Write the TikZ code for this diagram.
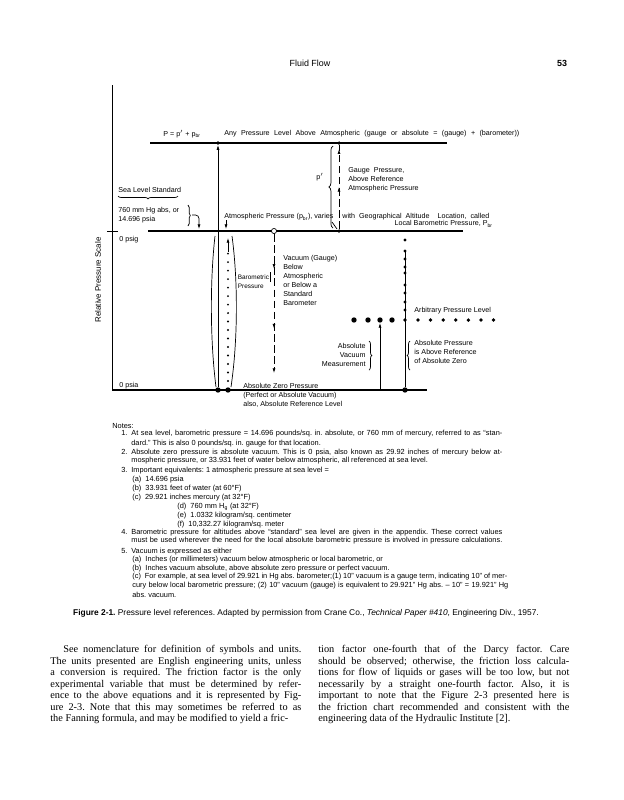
\documentclass[tikz,border=0pt]{standalone}
\usepackage{fontspec}
\setmainfont{Liberation Serif}
\newfontfamily\dgsans{Liberation Sans}
\usetikzlibrary{arrows.meta,decorations.pathreplacing,decorations.markings}
\frenchspacing
\newcommand{\dgfont}{\dgsans\fontsize{6.1}{7.6}\selectfont}
\newcommand{\ntfont}{\dgsans\fontsize{6.3}{7.6}\selectfont}
\newcommand{\hdfont}{\dgsans\fontsize{7.6}{9}\selectfont}
\newcommand{\fullln}[2]{\makebox[#1][s]{#2}}
\tikzset{
  lbl/.style={font=\dgfont, inner sep=0pt, anchor=west, align=left},
  lblr/.style={font=\dgfont, inner sep=0pt, anchor=east, align=right},
  nt/.style={font=\ntfont, inner sep=0pt, anchor=base west},
  bigdot/.style={circle, fill, inner sep=0pt, minimum size=4.6pt},
  dot/.style={circle, fill, inner sep=0pt, minimum size=2.6pt},
  tick/.style={circle, fill, inner sep=0pt, minimum size=3pt},
  lev/.style={line width=0.9pt},
  brc/.style={decorate, decoration={brace, amplitude=#1}, line width=0.6pt},
  brc/.default=2.5pt,
  tip/.style={-{Latex[length=4pt, width=2.6pt]}},
  arrat/.style={postaction={decorate, decoration={markings, mark=at position #1 with {\arrow{Latex[length=4pt, width=2.6pt]}}}}},
  gdash/.style={dash pattern=on 6.5pt off 3pt},
  dotcol/.style={line width=1.8pt, line cap=round, dash pattern=on 0pt off 7.25pt},
  body/.style={font=\fontsize{8.8}{9.86}\selectfont, inner sep=0pt, anchor=north west, text width=7.53cm, align=justify},
}
\begin{document}
\begin{tikzpicture}[x=0.03cm, y=-0.03cm, line width=0.6pt]
\fill[white] (0,0) rectangle (624,800);
\useasboundingbox (0,0) rectangle (624,800);

\node[font=\hdfont] (hd) at (310,63) {Fluid Flow};
\node[font=\hdfont\bfseries] (pg) at (562,63) {53};

\coordinate (axT) at (112,85);
\coordinate (axB) at (112,390);
\draw (axT) -- (axB);
\coordinate (tkL) at (107,231);
\coordinate (tkR) at (118,231);
\draw (tkL) -- (tkR);
\node[font=\dgsans\fontsize{6.8}{8}\selectfont, rotate=90] (rps) at (98,280) {Relative Pressure Scale};

\coordinate (topL) at (150,143);
\coordinate (topR) at (447,143);
\coordinate (atmL) at (148,231);
\coordinate (atmR) at (463,231);
\coordinate (zerR) at (427,390);
\draw[lev] (topL) -- (topR);
\draw[lev] (atmL) -- (atmR);
\draw[lev] (axB) -- (zerR);

\node[lbl] (peq) at (163,134) {P = p$'$ + p\textsubscript{br}};
\node[lbl] (anyp) at (224,134) {\fullln{8.85cm}{Any Pressure Level Above Atmospheric (gauge or absolute = (gauge) + (barometer))}};
\node[lbl] (sls) at (118,190) {Sea Level Standard};
\draw[brc] (178,196) -- (118,196);
\node[lbl] (hg) at (118,215) {760 mm Hg abs, or\\14.696 psia};
\draw[brc=2pt] (188,205) -- (188,226);
\coordinate (hk) at (192,215);
\coordinate (hkE) at (199,229);
\draw[tip, rounded corners=3pt] (hk) -| (hkE);
\node[lbl] (atp) at (224,217) {Atmospheric Pressure (p\textsubscript{br}), varies};
\node[lbl] (geo) at (342,217) {\fullln{4.41cm}{with Geographical Altitude\ \ Location, called}};
\node[lblr] (lbp) at (493,224) {Local Barometric Pressure, P\textsubscript{br}};
\coordinate (atA) at (226,220);
\coordinate (atB) at (226,229);
\draw[tip] (atA) -- (atB);
\node[lbl] (psig) at (119,240) {0 psig};
\node[lbl] (psia) at (119,386) {0 psia};

\node[tick] (gtop) at (339,143) {};
\node[tick] (gbot) at (339,231) {};
\draw[gdash, arrat=0.5, arrat=0.95] (gbot) -- (gtop);
\draw[brc=3.5pt] (333,228) -- (333,146);
\node[lbl] (pp) at (316,177) {p$'$};
\node[lbl] (gp) at (348,179.5) {Gauge\ \ Pressure,\\Above Reference\\Atmospheric Pressure};
\coordinate (vrA) at (332,222);
\coordinate (vrB) at (337,229);
\draw (vrA) -- (vrB);

\node[tick] (bartop) at (218,143) {};
\node[bigdot] (barbot) at (218,390) {};
\draw[tip] (barbot) -- (bartop);
\coordinate (dcB) at (228,381);
\coordinate (dcT) at (228,252);
\coordinate (dcA) at (228,238);
\draw[dotcol] (dcB) -- (dcT);
\draw[tip] (dcT) -- (dcA);
\node[bigdot] (dcbot) at (228,390) {};
\draw (215,236) .. controls (210,280) and (210,340) .. (216,387);
\draw (232,236) .. controls (238,280) and (238,340) .. (231,387);
\node[lbl, font=\dgsans\fontsize{5.5}{7.6}\selectfont] (baro) at (237.5,281.5) {Barometric\\Pressure};
\draw (270,272) -- (270,282);

\node[circle, draw, fill=white, inner sep=0pt, minimum size=4.4pt] (vc) at (274,231) {};
\coordinate (vend) at (274,373);
\draw[gdash, tip, arrat=0.25, arrat=0.68] (vc) -- (vend);
\node[lbl] (vac) at (283,280.5) {Vacuum (Gauge)\\Below\\Atmospheric\\or Below a\\Standard\\Barometer};

\node[dot] (rtopdot) at (405,240) {};
\node[bigdot] (rbot) at (405,390) {};
\coordinate (rtop) at (405,251);
\draw (rbot) -- (rtop);
\foreach \y in {251,259,267,273,285,293,302,310}
  \node[dot] at (405,\y) {};
\node[lbl] (arb) at (414,311) {Arbitrary Pressure Level};
\node[bigdot] (a1) at (354,320) {};
\node[bigdot] (a2) at (368,320) {};
\node[bigdot] (av) at (380,320) {};
\node[bigdot] (a4) at (392,320) {};
\node[dot, minimum size=3.2pt] (a5) at (405,320) {};
\draw[line width=3.2pt, line cap=round, dash pattern=on 0pt off 10.75pt] (418,320) -- (494,320);
\coordinate (avb) at (380,390);
\draw[tip] (avb) -- (av);
\node[lblr] (avm) at (366,355) {Absolute\\Vacuum\\Measurement};
\draw[brc=2.5pt] (369,341) -- (369,370);
\draw[brc=2.5pt] (410,370) -- (410,341);
\node[lbl] (abp) at (414,352) {Absolute Pressure\\is Above Reference\\of Absolute Zero};
\node[lbl] (azp) at (243,395.5) {Absolute Zero Pressure\\(Perfect or Absolute Vacuum)\\also, Absolute Reference Level};

\node[nt] (notes) at (112,428) {Notes:};
\node[nt] (n1) at (121,435) {1.};
\node[nt] (n1a) at (131,435) {\fullln{11.13cm}{At sea level, barometric pressure = 14.696 pounds/sq. in. absolute, or 760 mm of mercury, referred to as “stan-}};
\node[nt] (n1b) at (131,445) {dard.” This is also 0 pounds/sq. in. gauge for that location.};
\node[nt] (n2) at (121,454) {2.};
\node[nt] (n2a) at (131,454) {\fullln{11.13cm}{Absolute zero pressure is absolute vacuum. This is 0 psia, also known as 29.92 inches of mercury below at-}};
\node[nt] (n2b) at (131,462) {mospheric pressure, or 33.931 feet of water below atmospheric, all referenced at sea level.};
\node[nt] (n3) at (121,472) {3.};
\node[nt] (n3a) at (131,472) {Important equivalents: 1 atmospheric pressure at sea level =};
\node[nt] (n3b) at (132,481) {(a)\ \ 14.696 psia};
\node[nt] (n3c) at (132,490) {(b)\ \ 33.931 feet of water (at 60\textdegree F)};
\node[nt] (n3d) at (132,499) {(c)\ \ 29.921 inches mercury (at 32\textdegree F)};
\node[nt] (n3e) at (177,508) {(d)\ \ 760 mm H\textsubscript{g} (at 32\textdegree F)};
\node[nt] (n3f) at (177,517) {(e)\ \ 1.0332 kilogram/sq. centimeter};
\node[nt] (n3g) at (177,526) {(f)\ \ 10,332.27 kilogram/sq. meter};
\node[nt] (n4) at (121,534) {4.};
\node[nt] (n4a) at (131,534) {\fullln{11.13cm}{Barometric pressure for altitudes above “standard” sea level are given in the appendix. These correct values}};
\node[nt] (n4b) at (131,542) {\fullln{11.13cm}{must be used wherever the need for the local absolute barometric pressure is involved in pressure calculations.}};
\node[nt] (n5) at (121,553) {5.};
\node[nt] (n5a) at (131,553) {Vacuum is expressed as either};
\node[nt] (n5b) at (132,561) {(a)\ \ Inches (or millimeters) vacuum below atmospheric or local barometric, or};
\node[nt] (n5c) at (132,570) {(b)\ \ Inches vacuum absolute, above absolute zero pressure or perfect vacuum.};
\node[nt] (n5d) at (132,578) {\fullln{11.25cm}{(c)\ \ For example, at sea level of 29.921 in Hg abs. barometer;(1) 10” vacuum is a gauge term, indicating 10” of mer-}};
\node[nt] (n5e) at (132,587) {\fullln{11.28cm}{cury below local barometric pressure; (2) 10” vacuum (gauge) is equivalent to 29.921” Hg abs. – 10” = 19.921” Hg}};
\node[nt] (n5f) at (132,597) {abs. vacuum.};

\node[font=\dgsans\fontsize{7.15}{9}\selectfont, inner sep=0pt] (cap) at (306,613) {\textbf{Figure 2-1.} Pressure level references. Adapted by permission from Crane Co., \textit{Technical Paper \#410}, Engineering Div., 1957.};

\node[body] (colL) at (50,645) {\parfillskip=0pt\hspace*{0.39cm}See nomenclature for definition of symbols and units.\linebreak
The units presented are English engineering units, unless\linebreak
a conversion is required. The friction factor is the only\linebreak
experimental variable that must be determined by refer-\linebreak
ence to the above equations and it is represented by Fig-\linebreak
ure 2-3. Note that this may sometimes be referred to as\linebreak
the Fanning formula, and may be modified to yield a fric-};
\node[body] (colR) at (318,645) {tion factor one-fourth that of the Darcy factor. Care\linebreak
should be observed; otherwise, the friction loss calcula-\linebreak
tions for flow of liquids or gases will be too low, but not\linebreak
necessarily by a straight one-fourth factor. Also, it is\linebreak
important to note that the Figure 2-3 presented here is\linebreak
the friction chart recommended and consistent with the\linebreak
engineering data of the Hydraulic Institute [2].};
\end{tikzpicture}
\end{document}
